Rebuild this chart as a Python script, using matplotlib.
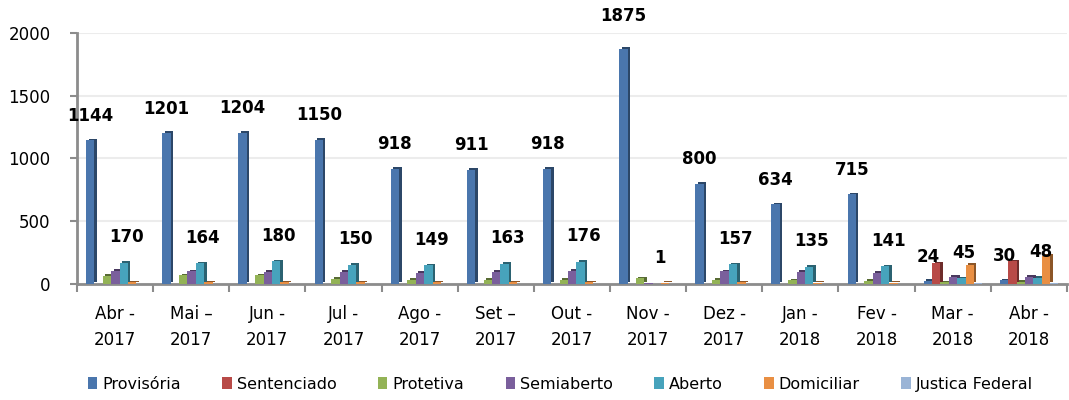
import matplotlib
matplotlib.use("Agg")
import matplotlib.pyplot as plt
import matplotlib.patheffects as pe
import matplotlib.colors as mcolors
from matplotlib.patches import Patch
import numpy as np

months = ["Abr -\n2017", "Mai \u2013\n2017", "Jun -\n2017", "Jul -\n2017", "Ago -\n2017",
          "Set \u2013\n2017", "Out -\n2017", "Nov -\n2017", "Dez -\n2017", "Jan -\n2018",
          "Fev -\n2018", "Mar -\n2018", "Abr -\n2018"]

provisoria = [1144, 1201, 1204, 1150, 918, 911, 918, 1875, 800, 634, 715, 24, 30]
sentenciado = [0, 0, 0, 0, 0, 0, 0, 0, 0, 0, 0, 165, 180]
protetiva = [65, 70, 70, 40, 35, 32, 34, 45, 32, 28, 26, 12, 15]
semiaberto = [105, 100, 95, 97, 88, 97, 103, 4, 100, 97, 90, 55, 55]
aberto = [170, 164, 180, 150, 149, 163, 176, 1, 157, 135, 141, 45, 48]
domiciliar = [12, 12, 12, 12, 12, 12, 12, 10, 12, 10, 10, 150, 225]
justica = [0, 0, 0, 0, 0, 0, 0, 0, 0, 0, 0, 6, 6]

series = [
    ("Provisória", provisoria, "#4A76AD"),
    ("Sentenciado", sentenciado, "#B84A47"),
    ("Protetiva", protetiva, "#93B356"),
    ("Semiaberto", semiaberto, "#7A5F9C"),
    ("Aberto", aberto, "#47A3BC"),
    ("Domiciliar", domiciliar, "#E98F43"),
    ("Justica Federal", justica, "#9AB4D6"),
]

fig = plt.figure(figsize=(10.69, 4.0), dpi=100)
ax = fig.add_axes([0.072, 0.29, 0.926, 0.628])

x = np.arange(len(months))
w = 0.11
start = -0.5 + 0.12 + w / 2

handles = []
for i, (name, vals, col) in enumerate(series):
    dark = tuple(c * 0.6 for c in mcolors.to_rgb(col))
    bars = ax.bar(x + start + i * w, vals, width=w, color=col,
                  zorder=3, linewidth=0)
    for b in bars:
        b.set_path_effects([pe.SimplePatchShadow(offset=(1.8, 1.2),
                                                 shadow_rgbFace=dark, alpha=1.0),
                            pe.Normal()])
    handles.append(Patch(facecolor=col, label=name))

# data labels on Provisória and Aberto
for j in range(len(months)):
    off = 17 if provisoria[j] > 1500 else 11
    ax.annotate(str(provisoria[j]), (x[j] + start, provisoria[j]),
                xytext=(0, off), textcoords="offset points", ha="center",
                va="bottom", fontsize=12, fontweight="bold")
    ax.annotate(str(aberto[j]), (x[j] + start + 4 * w, aberto[j]),
                xytext=(2, 12), textcoords="offset points", ha="center",
                va="bottom", fontsize=12, fontweight="bold")

ax.set_ylim(0, 2000)
ax.set_xlim(-0.5, len(months) - 0.5)
ax.set_yticks([0, 500, 1000, 1500, 2000])
ax.set_xticks(x)
ax.set_xticklabels(months, fontsize=12, linespacing=1.6)
ax.set_xticks(np.arange(-0.5, len(months), 1), minor=True)
ax.tick_params(axis="x", which="major", length=0, pad=15)
ax.tick_params(axis="x", which="minor", length=6, width=1.5, color="#8c8c8c")
ax.tick_params(axis="y", labelsize=12, length=5, width=1.5, color="#8c8c8c", pad=14)
ax.grid(axis="y", color="#ececec", linewidth=1.5, zorder=0)

for s in ["top", "right"]:
    ax.spines[s].set_visible(False)
for s in ["left", "bottom"]:
    ax.spines[s].set_color("#8c8c8c")
    ax.spines[s].set_linewidth(2)

leg = fig.legend(handles=handles, loc="lower center", bbox_to_anchor=(0.524, -0.015),
                 ncol=7, frameon=False, handlelength=0.6, handleheight=0.8,
                 handletextpad=0.3, columnspacing=2.6,
                 prop={"family": "DejaVu Sans", "size": 11.5})

fig.savefig("out.png", dpi=100)
